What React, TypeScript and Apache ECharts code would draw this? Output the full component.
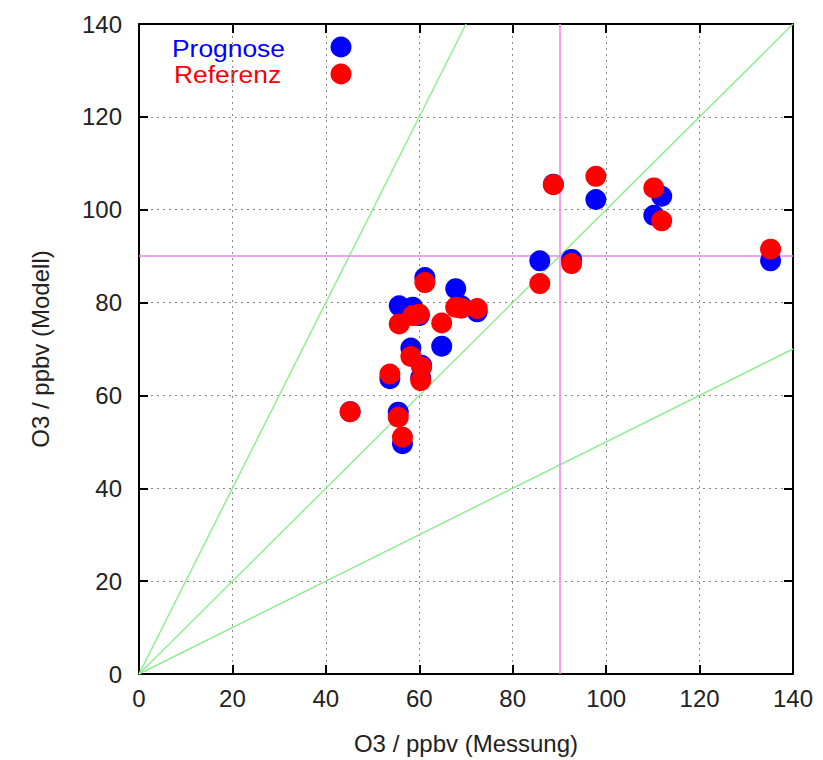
import React, { useEffect, useRef } from "react";
import * as echarts from "echarts";

const measX = [45.2, 53.7, 55.5, 56.4, 55.7, 58.6, 60.0, 58.2, 60.5, 60.3, 61.2, 64.8, 67.8, 69.0, 72.4, 85.8, 88.7, 92.6, 97.8, 110.2, 111.9, 135.2];
const prognoseY = [56.5, 63.6, 56.4, 49.6, 79.3, 79.0, 77.2, 70.2, 66.5, 63.8, 85.4, 70.6, 83.0, 79.3, 78.0, 89.0, 105.5, 89.3, 102.2, 98.8, 102.9, 89.0];
const referenzY = [56.5, 64.6, 55.3, 51.0, 75.4, 77.2, 77.5, 68.4, 66.1, 63.2, 84.3, 75.6, 79.0, 78.8, 78.7, 84.1, 105.4, 88.4, 107.2, 104.7, 97.6, 91.5];
const ratioLines = [
  [[0, 0], [70, 140]],
  [[0, 0], [140, 140]],
  [[0, 0], [140, 70]],
];
const refLines = [
  [[90, 0], [90, 140]],
  [[0, 90], [140, 90]],
];
const legendNames = ["Prognose", "Referenz"];
const colors = ["#0000ff", "#ff0000"];

export default function App() {
  const ref = useRef<HTMLDivElement>(null);
  useEffect(() => {
    const chart = echarts.init(ref.current!, null, { renderer: "svg" });
    const font = "'Liberation Sans', Arial, sans-serif";
    const axisCommon = {
      type: "value",
      min: 0,
      max: 140,
      interval: 20,
      axisLine: { show: true, onZero: false, lineStyle: { color: "#000", width: 2 } },
      axisTick: { show: true, inside: true, length: 9, lineStyle: { color: "#000", width: 2 } },
    };
    const toMark = (lines: number[][][]) =>
      lines.map((l) => [{ coord: l[0] }, { coord: l[1] }]);
    chart.setOption({
      animation: false,
      backgroundColor: "#fff",
      grid: { left: 139, top: 24, right: 30, bottom: 84 },
      xAxis: [
        {
          ...axisCommon,
          position: "bottom",
          name: "O3 / ppbv (Messung)",
          nameLocation: "middle",
          nameGap: 57,
          nameTextStyle: { fontFamily: font, fontSize: 24, color: "#222" },
          axisLabel: { fontFamily: font, fontSize: 24, color: "#222", margin: 12 },
          splitLine: { show: true, lineStyle: { color: "#888", type: [2, 4], width: 1 } },
        },
        {
          ...axisCommon,
          position: "top",
          axisLabel: { show: false },
          splitLine: { show: false },
        },
      ],
      yAxis: [
        {
          ...axisCommon,
          position: "left",
          name: "O3 / ppbv (Modell)",
          nameLocation: "middle",
          nameGap: 87,
          nameTextStyle: { fontFamily: font, fontSize: 24, color: "#222" },
          axisLabel: { fontFamily: font, fontSize: 24, color: "#222", margin: 17 },
          splitLine: { show: true, lineStyle: { color: "#888", type: [2, 4], width: 1 } },
        },
        {
          ...axisCommon,
          position: "right",
          axisLabel: { show: false },
          splitLine: { show: false },
        },
      ],
      series: [
        {
          name: legendNames[0],
          type: "scatter",
          data: measX.map((x, i) => [x, prognoseY[i]]),
          symbol: "circle",
          symbolSize: 21,
          itemStyle: { color: colors[0], opacity: 1 },
          z: 3,
          markLine: {
            silent: true,
            symbol: "none",
            label: { show: false },
            lineStyle: { color: "#90ee90", width: 1.5, type: "solid" },
            data: toMark(ratioLines),
            z: 1,
          },
        },
        {
          name: legendNames[1],
          type: "scatter",
          data: measX.map((x, i) => [x, referenzY[i]]),
          symbol: "circle",
          symbolSize: 21,
          itemStyle: { color: colors[1], opacity: 1 },
          z: 4,
          markLine: {
            silent: true,
            symbol: "none",
            label: { show: false },
            lineStyle: { color: "#ee82ee", width: 1.5, type: "solid" },
            data: toMark(refLines),
            z: 1,
          },
        },
      ],
      graphic: [
        {
          type: "text",
          x: 172,
          y: 36,
          scaleX: 1.1,
          style: { text: legendNames[0], fill: colors[0], font: `24px ${font}` },
        },
        {
          type: "text",
          x: 174,
          y: 62,
          scaleX: 1.1,
          style: { text: legendNames[1], fill: colors[1], font: `24px ${font}` },
        },
        { type: "circle", shape: { cx: 341, cy: 47, r: 10.5 }, style: { fill: colors[0] }, z: 10 },
        { type: "circle", shape: { cx: 341, cy: 74, r: 10.5 }, style: { fill: colors[1] }, z: 10 },
      ],
    });
    return () => chart.dispose();
  }, []);
  return (
    <div
      ref={ref}
      style={{ position: "fixed", left: 0, top: 0, width: 823, height: 760 }}
    />
  );
}
